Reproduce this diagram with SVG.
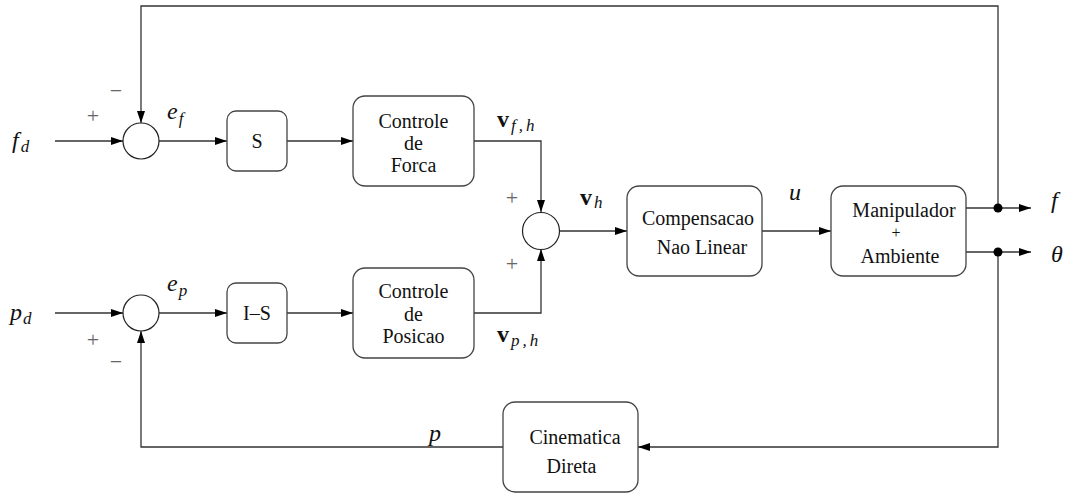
<svg xmlns="http://www.w3.org/2000/svg" width="1065" height="495" viewBox="0 0 1065 495">
<style>
.box{fill:#fff;stroke:#444;stroke-width:1.3}
.sum{fill:#fff;stroke:#222;stroke-width:1.2}
.ln{fill:none;stroke:#333;stroke-width:1.3}
.t{font-family:"Liberation Serif","Times New Roman",serif;font-size:20px;fill:#111;text-anchor:middle}
.m{font-family:"Liberation Serif","Times New Roman",serif;font-size:24px;font-style:italic;fill:#111}
.sb{font-size:17px;font-weight:normal;font-style:italic}
.b{font-weight:bold;font-style:normal}
.sg{font-family:"Liberation Serif","Times New Roman",serif;font-size:22px;fill:#666;text-anchor:middle}
</style>
<defs>
<marker id="ah" viewBox="0 0 12 8" refX="12" refY="4" markerWidth="12" markerHeight="8" markerUnits="userSpaceOnUse" orient="auto">
<path d="M0,0 L12,4 L0,8 Z" fill="#000"/>
</marker>
</defs>
<rect width="1065" height="495" fill="#fff"/>
<g id="connectors">
<path class="ln" d="M55,141 H123" marker-end="url(#ah)"/>
<path class="ln" d="M159,141 H227" marker-end="url(#ah)"/>
<path class="ln" d="M287,141 H353" marker-end="url(#ah)"/>
<path class="ln" d="M474,141 H541 V212" marker-end="url(#ah)"/>
<path class="ln" d="M55,313 H123" marker-end="url(#ah)"/>
<path class="ln" d="M159,313 H227" marker-end="url(#ah)"/>
<path class="ln" d="M287,313 H353" marker-end="url(#ah)"/>
<path class="ln" d="M474,313 H541 V249" marker-end="url(#ah)"/>
<path class="ln" d="M560,231 H627" marker-end="url(#ah)"/>
<path class="ln" d="M762,231 H831" marker-end="url(#ah)"/>
<path class="ln" d="M966,208 H1031" marker-end="url(#ah)"/>
<path class="ln" d="M966,252 H1031" marker-end="url(#ah)"/>
<path class="ln" d="M998,208 V6 H141 V123" marker-end="url(#ah)"/>
<path class="ln" d="M998,252 V447 H638" marker-end="url(#ah)"/>
<path class="ln" d="M503,447 H141 V331" marker-end="url(#ah)"/>
<circle cx="998" cy="208" r="4.5" fill="#000"/>
<circle cx="998" cy="252" r="4.5" fill="#000"/>
</g>
<g id="sum_f"><circle class="sum" cx="141" cy="141" r="18"/></g>
<g id="sum_v"><circle class="sum" cx="541" cy="231" r="18.5"/></g>
<g id="sum_p"><circle class="sum" cx="141" cy="313" r="18"/></g>
<g id="S"><rect class="box" x="227" y="111" width="60" height="60" rx="9"/><text class="t" x="257" y="148">S</text></g>
<g id="IS"><rect class="box" x="227" y="283" width="60" height="60" rx="9"/><text class="t" x="257" y="320">I–S</text></g>
<g id="ctrl_forca"><rect class="box" x="353" y="96" width="121" height="90" rx="12"/>
<text class="t" x="413.5" y="127.5">Controle</text><text class="t" x="413.5" y="150">de</text><text class="t" x="413.5" y="171.5">Forca</text></g>
<g id="ctrl_posicao"><rect class="box" x="353" y="268" width="121" height="90" rx="12"/>
<text class="t" x="413.5" y="298">Controle</text><text class="t" x="413.5" y="321">de</text><text class="t" x="413.5" y="343">Posicao</text></g>
<g id="compensacao"><rect class="box" x="627" y="186" width="135" height="90" rx="12"/>
<text class="t" x="698" y="224.5">Compensacao</text><text class="t" x="702" y="253.5">Nao Linear</text></g>
<g id="manipulador"><rect class="box" x="831" y="186" width="135" height="90" rx="12"/>
<text class="t" x="904" y="217">Manipulador</text><text class="t" x="896" y="238" style="font-size:16px">+</text><text class="t" x="900" y="262.5">Ambiente</text></g>
<g id="cinematica"><rect class="box" x="503" y="402" width="135" height="90" rx="12"/>
<text class="t" x="575" y="443.5">Cinematica</text><text class="t" x="571.5" y="472.5">Direta</text></g>
<g id="labels">
<text class="m" x="12" y="148">f<tspan class="sb" dx="2" dy="4">d</tspan></text>
<text class="m" x="10" y="320">p<tspan class="sb" dx="1" dy="4">d</tspan></text>
<text class="m" x="167" y="119">e<tspan class="sb" dx="1" dy="5">f</tspan></text>
<text class="m" x="167" y="291">e<tspan class="sb" dx="1" dy="5">p</tspan></text>
<text class="m b" x="497" y="127">v<tspan class="sb" dx="2" dy="4" letter-spacing="3">f,h</tspan></text>
<text class="m b" x="497" y="342">v<tspan class="sb" dx="2" dy="4" letter-spacing="3">p,h</tspan></text>
<text class="m b" x="580" y="205">v<tspan class="sb" dx="2" dy="3">h</tspan></text>
<text class="m" x="789" y="200">u</text>
<text class="m" x="1051" y="208">f</text>
<text class="m" x="1051" y="262">θ</text>
<text class="m" x="429" y="441">p</text>
<text class="sg" x="93" y="123">+</text>
<text class="sg" x="116" y="98">−</text>
<text class="sg" x="93" y="347">+</text>
<text class="sg" x="116" y="369">−</text>
<text class="sg" x="512" y="205">+</text>
<text class="sg" x="512" y="271">+</text>
</g>
</svg>
